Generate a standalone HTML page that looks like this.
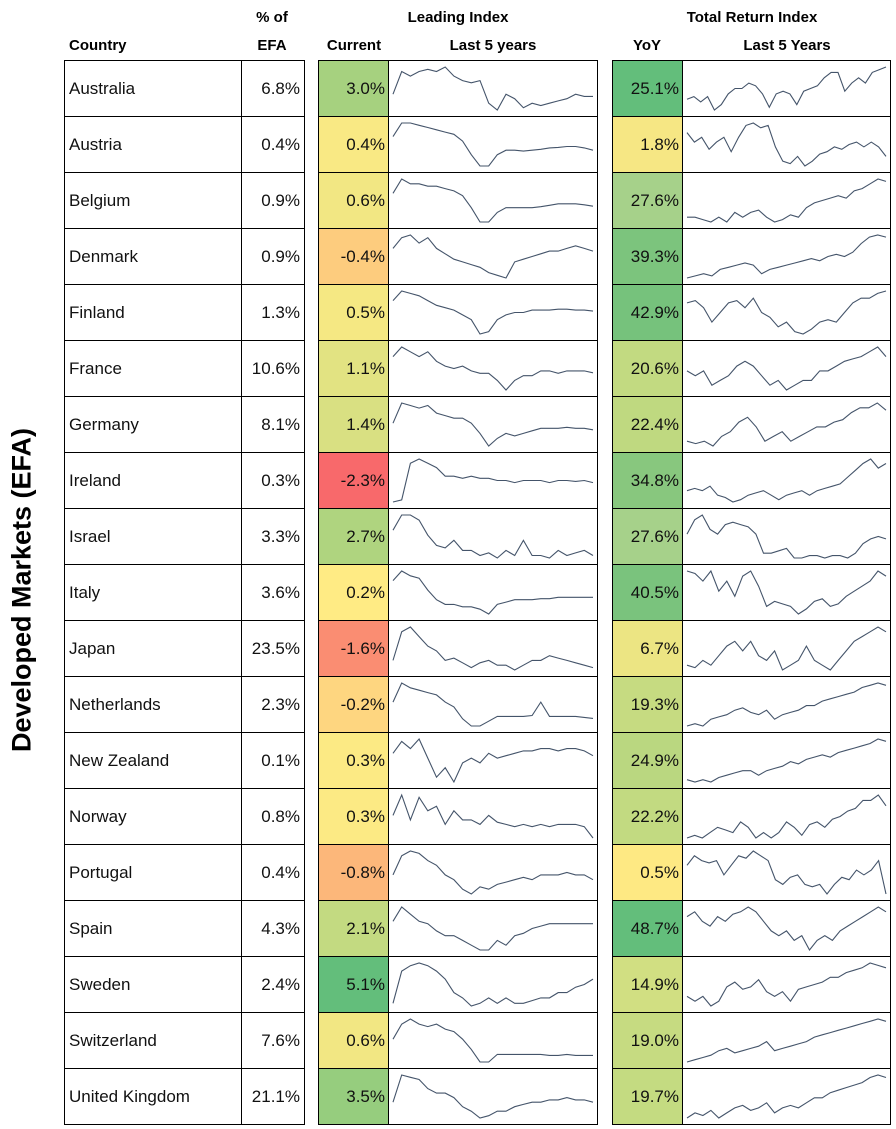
<!DOCTYPE html>
<html><head><meta charset="utf-8"><style>
body{margin:0;width:896px;height:1129px;background:#fff;position:relative;font-family:"Liberation Sans",Arial,sans-serif;overflow:hidden}
.h{position:absolute;font-weight:bold;font-size:15px;color:#000;transform:translateX(-50%);white-space:nowrap}
.c{position:absolute;box-sizing:border-box;border:1px solid #000;font-size:17px;color:#111;display:flex;align-items:center}
.t{position:absolute;left:22px;top:590px;transform:translate(-50%,-50%) rotate(-90deg);font-weight:bold;font-size:27px;white-space:nowrap}
svg{position:absolute}
</style></head><body>
<div class="t">Developed Markets (EFA)</div>
<div class="h" style="left:272px;top:9px">% of</div>
<div class="h" style="left:272px;top:37px">EFA</div>
<div class="h" style="left:69px;top:37px;transform:none">Country</div>
<div class="h" style="left:458px;top:9px">Leading Index</div>
<div class="h" style="left:354px;top:37px">Current</div>
<div class="h" style="left:493px;top:37px">Last 5 years</div>
<div class="h" style="left:752px;top:9px">Total Return Index</div>
<div class="h" style="left:647px;top:37px">YoY</div>
<div class="h" style="left:787px;top:37px">Last 5 Years</div>
<div id="tbl"></div>
<script>
const countries=["Australia","Austria","Belgium","Denmark","Finland","France","Germany","Ireland","Israel","Italy","Japan","Netherlands","New Zealand","Norway","Portugal","Spain","Sweden","Switzerland","United Kingdom"];
const weights=["6.8%","0.4%","0.9%","0.9%","1.3%","10.6%","8.1%","0.3%","3.3%","3.6%","23.5%","2.3%","0.1%","0.8%","0.4%","4.3%","2.4%","7.6%","21.1%"];
const leadCurrent=[3.0,0.4,0.6,-0.4,0.5,1.1,1.4,-2.3,2.7,0.2,-1.6,-0.2,0.3,0.3,-0.8,2.1,5.1,0.6,3.5];
const yoy=[25.1,1.8,27.6,39.3,42.9,20.6,22.4,34.8,27.6,40.5,6.7,19.3,24.9,22.2,0.5,48.7,14.9,19.0,19.7];
const yoyColors=["#63be7b","#f6e784","#a6d18a","#7cc47d","#76c27c","#c2da81","#bfd980","#88c77e","#a6d18a","#7ac37d","#ece583","#c6db81","#bad780","#c2da81","#fee983","#63be7b","#d1df82","#c6db81","#c4db81"];
const leadSeries=[
[4,9,8,9,9.5,9,10,8,7,6.5,7,2,0.5,4,3,1,2,1.5,2,2.5,3,4,3.5,3.5],
[7,10,10,9.5,9,8.5,8,7.5,6,3,0.5,0.5,3,4,4,3.8,4,4.2,4.5,4.6,4.8,4.8,4.5,4],
[7,10,9,9,8.5,8.5,8,7.5,6.5,4,1,1,3,4,4,4,4,4.2,4.5,4.8,4.8,4.8,4.6,4.3],
[7,9,9.5,8,9,7,6,5,4.5,4,3.5,2.5,2,1.5,4.5,5,5.5,6,6.5,6.5,7,7.5,7,6.5],
[8,10,9.5,9,8,7,6.5,6,5,4,1,1.5,4,5,5.5,5.5,6,6,6,6.2,6.2,6,6,5.8],
[8,10,9,8,9,7,6,5.5,6,5,4.5,4.5,3,1,3,4,4,5,5,4.5,5,5,5,4.6],
[6,10,9.5,9,9.5,8,7.5,7,7,6,4,1.5,3,4,3.5,4,4.5,5,5,5,5.2,5,5,4.7],
[0,0.5,9,10,9,8,6,6,5.5,6,5.5,5.5,5,5,4.5,5,5,5,4.5,5,5,4.8,5,4.5],
[7,10,10,9,6,4,3.5,5,3,3,2,2.5,1.5,3,2,5,2,2,1.5,3,2,2.5,3,2],
[8,10,9,8.5,6,4,3,3,2.5,2.5,2,1,3,3.5,4,4,4,4.2,4.2,4.5,4.5,4.5,4.5,4.5],
[3,9,10,8,6,5,3,3.5,2.5,1.5,2.5,3,2,2,1,2,3,3,4,3.5,3,2.5,2,1.5],
[6,10,9,8.5,8,7.5,6,5,2.5,1,1,2,3,3,3,3,3.2,6,3,3,3,3,2.8,2.6],
[7,9.5,8,10,6,2,4,1,5,6,5,7,6,6.5,7,7.5,7.5,8,8,7.5,8,8,7.5,6.5],
[5,9.5,4,9,6,7,3,6,4,4,3,5,3.5,3,2.5,3,2.5,3,2.5,3,3,3,2.5,0],
[5,9,10,9.5,8,7,5,4,2,1,2.5,2,3,3.5,4,4.5,4,5,5,5,5.5,5,5,4],
[7,10,8.5,7,6.5,5,4,4,3,2,1,1,3,2,4,4.5,5.5,6,6.5,6.5,6.5,6.5,6.5,6.5],
[2,8,9,9.5,9,8,6.5,4,3,1.5,2,3,2,3,2,2,2.5,3,3,4,4,5,5.5,6.5],
[6,9,10,9,8.5,9,8,7.5,6,4,1.5,1.5,3,3,3,3,3,3,2.8,2.8,3,2.8,2.8,2.8],
[4,10,9.5,9,7,6,6,5,3,2,0.5,1,2,2,3,3.5,4,4,4.5,4.5,5,4.5,4.5,4]];
const retSeries=[
[3,3.5,2.5,3.5,1,2,4,5,5,6,5.5,4,1.5,4,4.5,4,2,4.5,5,5.5,7,8,8,4.5,6,7,6,8,8.5,9],
[8,6,7,4.5,6,7,4,7,9.5,10,9,9.5,5,2,1.5,3,1,2,3.5,4,5,4.5,5.5,6,5,6,5,3],
[2,2,1.5,1,2,1,3,2,3,3.5,2,1,1.5,2.5,2,4,5,5.5,6,6.5,6,7.5,8,9,10,9.5],
[0,0.5,1,0.5,2,2.5,3,3.5,3,1,2,2.5,3,3.5,4,4.5,4,5,5.5,5,6,8,9.5,10,9.5],
[7,7.5,6,3,5,7,7.5,6,8,5,4,2,3,1,0.5,1.5,3,3.5,3,5,7,8,8,9,9.5],
[5,4,5,2,3,4,6,7,6,4,2,3,1,2,3,3,5,5,6,7,7.5,8,9,10,8],
[2,1.5,2,1,3,4,6,7,5,2,3,4,2,3,4,5,5,6,6.5,8,9,9,10,8.5],
[3,3.5,3,4,2,1.5,0.5,1,2,2.5,3,2,1,2,2.5,3,2,3,3.5,4,4.5,6,7.5,9,10,8,9],
[6,9,10,7,6,8,8.5,8,7.5,6,2,2,2.5,3,1,1,1.5,1.5,1,1.5,1.5,1,2,4,5,5.5,5],
[9,8.5,7,9,5,7,4,8,9,6,2,3,2.5,2,0.5,1.5,3,3.5,2,2.5,4,5,6,7,9,8],
[2,1.5,3,2,4,6,7,5,7,4,3,5,1,2,3,6,3,2,1,3,5,7,8,9,10,9],
[0.5,1,0.5,2,2.5,3,4,4.5,3.5,3,4,2,3,3.5,4,5,5,6,6.5,7,7.5,8,9,9.5,10,9.5],
[1,0.5,1,0.5,1.5,2,2.5,3,3,2,3,3.5,4,5,4.5,5.5,6,6.5,6,7,7.5,8,8.5,9,10,9.5],
[2,2.5,2,3,4,3.5,3,5,4,2,3,2,3,5,4,2.5,4.5,5,4,5.5,6,7,7.5,9,9,10,8],
[7,9,8,7.5,8,5,7,9,8.5,10,9,8,4,3,4.5,5,3,2.5,3,1,3,4.5,4,6,5,6,8,1],
[8,9,7,6,8,7,8.5,9,10,9,7,5,4,5,3,4,1,3,4,3,5,6,7,8,9,10,9],
[3,2,3,1,2,5,6,4.5,5,6.5,4,3,4,2,4.5,5,5.5,6,7,7,8,8.5,9,10,9.5,9],
[0.5,1,1.5,2,3,3.5,2.5,3,3.5,4,5,3,3.5,4,4.5,5,6,6.5,7,7.5,8,8.5,9,9.5,10,9.5],
[1,2,1.5,2.5,1,2,3,3.5,2.5,3,4,2,3,3.5,3,4,5,5,6,6.5,7,7.5,8,9,9.5,9]];

function mix(a,b,t){const p=h=>[1,3,5].map(i=>parseInt(h.substr(i,2),16));const A=p(a),B=p(b);return 'rgb('+A.map((v,i)=>Math.round(v+(B[i]-v)*t)).join(',')+')';}
function leadColor(v){const mn=Math.min(...leadCurrent),mx=Math.max(...leadCurrent),mid=0.2;
 return v<mid?mix('#f8696b','#ffeb84',(v-mn)/(mid-mn)):mix('#ffeb84','#63be7b',(v-mid)/(mx-mid));}
const NS='http://www.w3.org/2000/svg';
function cell(x,y,w,h,name){const d=document.createElement('div');d.className='c';
 d.style.cssText=`left:${x}px;top:${y}px;width:${w}px;height:${h}px`;
 
 
 document.body.appendChild(d);return d;}
function spark(x,y,w,h,vals,name){const s=document.createElementNS(NS,'svg');
 s.setAttribute('width',w);s.setAttribute('height',h);s.style.left=x+'px';s.style.top=y+'px';
 
 
 const mn=Math.min(...vals),mx=Math.max(...vals);
 const px=i=>3+i*(w-6)/(vals.length-1), py=v=>h-6-(v-mn)/(mx-mn||1)*(h-12);
 const pl=document.createElementNS(NS,'polyline');
 pl.setAttribute('points',vals.map((v,i)=>px(i).toFixed(1)+','+py(v).toFixed(1)).join(' '));
 pl.setAttribute('fill','none');pl.setAttribute('stroke','#44546a');pl.setAttribute('stroke-width','1.1');
 
 
 s.appendChild(pl);document.body.appendChild(s);}
const top0=60,rh=56;
countries.forEach((c,i)=>{const y=top0+i*rh;
 const a=cell(64,y,178,rh+1,'country-cell');a.textContent=c;a.style.paddingLeft='4px';
 const b=cell(241,y,64,rh+1,'weight-cell');b.textContent=weights[i];b.style.justifyContent='flex-end';b.style.paddingRight='4px';
 const d=cell(318,y,71,rh+1,'leading-current-cell');d.textContent=leadCurrent[i].toFixed(1)+'%';d.style.justifyContent='flex-end';d.style.paddingRight='3px';d.style.background=leadColor(leadCurrent[i]);
 cell(388,y,210,rh+1,'leading-sparkline-cell');
 spark(390,y+1,206,rh-1,leadSeries[i],'leading-sparkline');
 const e=cell(612,y,71,rh+1,'yoy-cell');e.textContent=yoy[i].toFixed(1)+'%';e.style.justifyContent='flex-end';e.style.paddingRight='3px';e.style.background=yoyColors[i];
 cell(682,y,209,rh+1,'return-sparkline-cell');
 spark(684,y+1,205,rh-1,retSeries[i],'return-sparkline');
});
</script>
</body></html>
